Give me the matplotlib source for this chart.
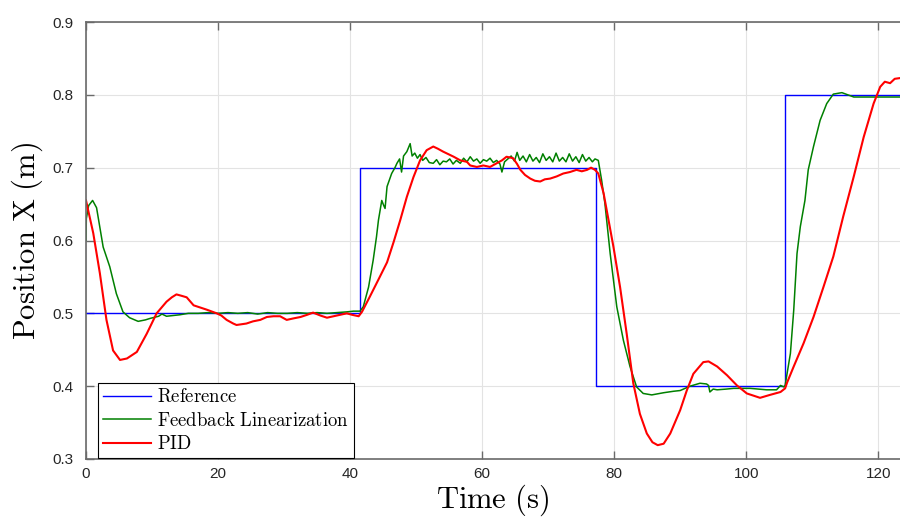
import numpy as np
import matplotlib
matplotlib.use('Agg')
import matplotlib.pyplot as plt

# 参考信号 (阶跃)
ref_times = [0, 41.55, 77.3, 105.95, 123.3]
ref_levels = [0.5, 0.7, 0.4, 0.8, 0.8]

# Feedback Linearization 响应
fl_t = [0, 0.05, 0.4, 1.0, 1.6, 2.6, 3.6, 4.6, 5.6, 6.6, 7.9, 9.0, 9.7, 11.0, 11.5, 12.2, 13.2, 14.2,
        15.5, 17, 18.5, 20, 21.5, 23, 24.5, 26, 27.5, 29, 30.5, 32, 33.5, 35, 36.5, 38, 39.5, 40.5, 41.5,
        42.0, 42.8, 43.5, 44.0, 44.3, 44.8, 45.1, 45.3, 45.6, 46.3, 46.8, 47.1, 47.5, 47.8, 48.1, 48.6,
        49.1, 49.4, 49.8, 50.2, 50.6, 51.0, 51.5, 52.0, 52.6, 53.1, 53.6, 54.1, 54.6, 55.1, 55.6, 56.1,
        56.7, 57.2, 57.7, 58.2, 58.7, 59.2, 59.7, 60.2, 60.7, 61.2, 61.7, 62.2, 62.7, 63.0, 63.4, 63.9,
        64.4, 64.9, 65.3, 65.7, 66.2, 66.7, 67.2, 67.7, 68.2, 68.7, 69.2, 69.7, 70.2, 70.7, 71.2, 71.7,
        72.2, 72.7, 73.2, 73.7, 74.2, 74.7, 75.2, 75.7, 76.2, 76.7, 77.1, 77.6, 78.1, 78.6, 79.4, 80.4,
        81.4, 82.4, 83.4, 84.4, 85.7, 87.5, 89, 90, 91.5, 93.0, 94.0, 94.3, 94.5, 95.0, 95.6, 97, 98.1,
        100.6, 103.1, 104.6, 105.2, 105.7, 105.9, 106.7, 107.2, 107.7, 108.2, 108.9, 109.4, 110.2, 111.2,
        112.2, 113.2, 114.5, 116.3, 118.3, 120.3, 123.3]
fl_x = [0.600, 0.630, 0.648, 0.655, 0.645, 0.591, 0.564, 0.527, 0.502, 0.494, 0.489, 0.491, 0.493, 0.496,
        0.499, 0.496, 0.497, 0.498, 0.500, 0.500, 0.501, 0.500, 0.501, 0.500, 0.501, 0.499, 0.501, 0.500,
        0.500, 0.501, 0.500, 0.501, 0.500, 0.501, 0.502, 0.503, 0.503, 0.509, 0.536, 0.573, 0.605, 0.628,
        0.655, 0.648, 0.644, 0.674, 0.692, 0.700, 0.706, 0.712, 0.694, 0.716, 0.722, 0.733, 0.716, 0.720,
        0.713, 0.718, 0.710, 0.714, 0.707, 0.706, 0.711, 0.704, 0.709, 0.708, 0.712, 0.705, 0.710, 0.706,
        0.713, 0.708, 0.715, 0.709, 0.712, 0.706, 0.711, 0.709, 0.713, 0.707, 0.710, 0.705, 0.694, 0.708,
        0.712, 0.716, 0.709, 0.721, 0.710, 0.716, 0.708, 0.718, 0.709, 0.714, 0.707, 0.719, 0.710, 0.715,
        0.708, 0.720, 0.709, 0.714, 0.708, 0.719, 0.709, 0.715, 0.707, 0.718, 0.709, 0.714, 0.708, 0.712,
        0.710, 0.683, 0.651, 0.582, 0.509, 0.463, 0.427, 0.399, 0.390, 0.388, 0.391, 0.393, 0.394, 0.400,
        0.404, 0.403, 0.401, 0.392, 0.396, 0.395, 0.396, 0.397, 0.397, 0.395, 0.395, 0.401, 0.399, 0.401,
        0.445, 0.504, 0.582, 0.619, 0.655, 0.697, 0.729, 0.765, 0.788, 0.801, 0.803, 0.797, 0.797, 0.797,
        0.797]

# PID 响应
pid_t = [0, 1.1, 2.1, 3.1, 4.1, 5.15, 6.2, 7.7, 9.2, 10.7, 12.2, 13.0, 13.7, 14.5, 15.25, 16.3, 17.3, 18.3,
         19.8, 20.5, 21.3, 22.3, 22.8, 24.3, 25.3, 26.4, 27.4, 28.4, 29.4, 30.4, 31.4, 32.5, 33.5, 34.4,
         35.5, 36.5, 37.5, 38.5, 39.5, 40.3, 41.3, 41.8, 43.0, 44.5, 45.6, 46.6, 47.6, 48.6, 49.6, 50.6,
         51.6, 52.6, 53.3, 54.1, 55.7, 56.7, 57.7, 58.2, 59.2, 60.2, 61.2, 62.2, 63.0, 63.7, 64.7, 65.3,
         65.8, 66.5, 67.3, 68.0, 68.8, 69.5, 70.3, 71.3, 72.3, 73.3, 74.3, 75.1, 75.9, 76.5, 77.1, 77.6,
         78.4, 79.9, 80.9, 81.9, 82.9, 83.9, 84.95, 85.8, 86.6, 87.5, 88.5, 90.0, 91.0, 92.0, 93.5, 94.3,
         95.6, 97.1, 98.6, 100.1, 102.1, 103.6, 105.2, 105.9, 106.2, 107.2, 108.7, 110.2, 111.7, 113.2,
         114.7, 116.3, 117.8, 119.3, 120.3, 121.0, 121.8, 122.5, 123.3]
pid_x = [0.655, 0.610, 0.555, 0.491, 0.449, 0.436, 0.438, 0.447, 0.472, 0.500, 0.516, 0.522, 0.526, 0.524,
         0.522, 0.511, 0.508, 0.505, 0.500, 0.497, 0.491, 0.486, 0.484, 0.486, 0.489, 0.491, 0.495, 0.496,
         0.496, 0.491, 0.493, 0.495, 0.498, 0.501, 0.497, 0.494, 0.496, 0.498, 0.500, 0.498, 0.496, 0.502,
         0.523, 0.550, 0.570, 0.598, 0.628, 0.660, 0.687, 0.710, 0.724, 0.729, 0.726, 0.722, 0.715, 0.710,
         0.708, 0.703, 0.701, 0.703, 0.701, 0.706, 0.710, 0.715, 0.713, 0.705, 0.697, 0.690, 0.685, 0.682,
         0.681, 0.684, 0.685, 0.688, 0.692, 0.694, 0.697, 0.695, 0.697, 0.700, 0.697, 0.692, 0.665, 0.591,
         0.536, 0.472, 0.404, 0.362, 0.335, 0.323, 0.319, 0.321, 0.335, 0.367, 0.394, 0.417, 0.433, 0.434,
         0.427, 0.415, 0.401, 0.390, 0.384, 0.388, 0.392, 0.397, 0.405, 0.427, 0.459, 0.495, 0.536, 0.578,
         0.633, 0.688, 0.742, 0.788, 0.811, 0.818, 0.816, 0.822, 0.823]

x_ticks = [0, 20, 40, 60, 80, 100, 120]
y_ticks = [0.3, 0.4, 0.5, 0.6, 0.7, 0.8, 0.9]

plt.rcParams['font.family'] = ['Liberation Sans', 'DejaVu Sans']
plt.rcParams['mathtext.fontset'] = 'cm'

fig = plt.figure(figsize=(9, 5.21), dpi=100)
ax = fig.add_axes([86 / 900, 62 / 521, 814 / 900, 437 / 521])

ax.step(ref_times, ref_levels, where='post', color='#0000ff', lw=1.0,
        label=r'$\mathrm{Reference}$')
ax.plot(fl_t, fl_x, color='#008000', lw=1.1, label=r'$\mathrm{Feedback\ Linearization}$')
ax.plot(pid_t, pid_x, color='#ff0000', lw=1.5, label=r'$\mathrm{PID}$')

ax.set_xlim(0, 123.3)
ax.set_ylim(0.3, 0.9)
ax.set_xticks(x_ticks)
ax.set_yticks(y_ticks)
ax.set_yticklabels([f'{v:.1f}' for v in y_ticks])

ax.grid(True, color='#e3e3e3', lw=0.8)
ax.set_axisbelow(True)
for side in ['left', 'bottom', 'top']:
    ax.spines[side].set_color('#6a6a6a')
    ax.spines[side].set_linewidth(1.2)
ax.spines['right'].set_visible(False)
ax.tick_params(direction='in', length=6, width=1.0, color='#6a6a6a', labelcolor='#262626',
               labelsize=11, top=True)
ax.tick_params(axis='y', pad=9)
ax.tick_params(axis='x', pad=6)

ax.set_xlabel(r'$\mathrm{Time\ (s)}$', fontsize=22, labelpad=1)
ax.set_ylabel(r'$\mathrm{Position\ X\ (m)}$', fontsize=22, labelpad=5)

leg = ax.legend(loc='lower left', bbox_to_anchor=(12 / 814, 1 / 437), borderaxespad=0,
                fontsize=13.5, fancybox=False, framealpha=1, edgecolor='black',
                handlelength=2.6, handletextpad=0.3, labelspacing=0.3, borderpad=0.25)
leg.get_frame().set_linewidth(0.8)

plt.savefig('out.png', dpi=100)
